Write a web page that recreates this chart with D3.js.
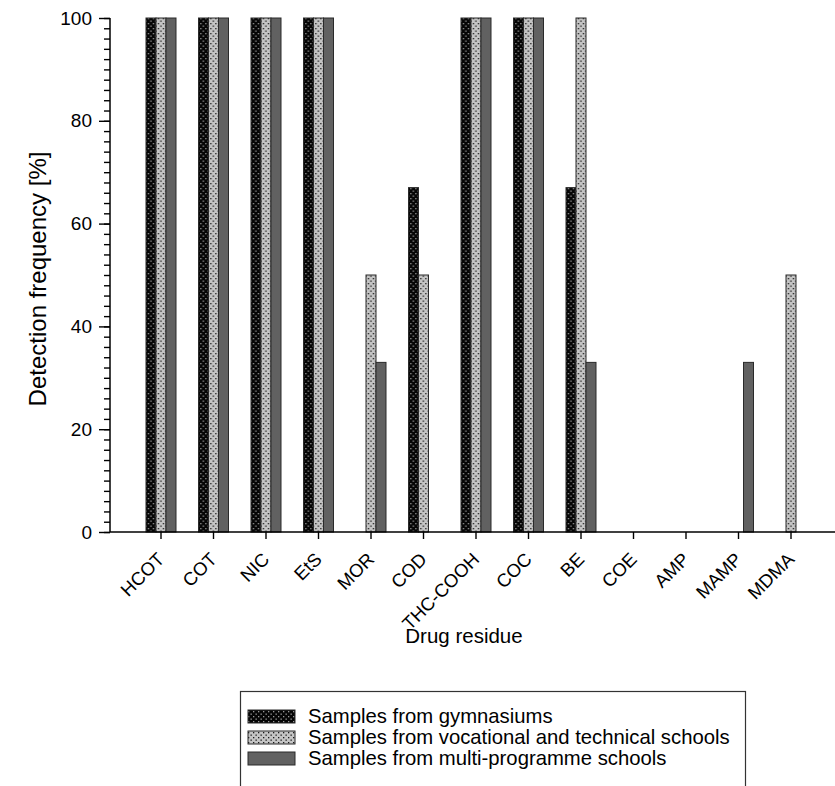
<!DOCTYPE html>
<html>
<head>
<meta charset="utf-8">
<script src="https://cdn.jsdelivr.net/npm/d3@7"></script>
<style>
  html, body { margin: 0; padding: 0; background: #fff; }
  svg { display: block; font-family: "Liberation Sans", Arial, sans-serif; }
</style>
</head>
<body>
<svg id="chart" width="835" height="786"></svg>
<script>
// Drug residues on the x axis
const categories = ["HCOT", "COT", "NIC", "EtS", "MOR", "COD", "THC-COOH", "COC", "BE", "COE", "AMP", "MAMP", "MDMA"];

// Detection frequency (%) per school type
const gymnasiums = [100, 100, 100, 100, 0, 67, 100, 100, 67, 0, 0, 0, 0];
const vocational = [100, 100, 100, 100, 50, 50, 100, 100, 100, 0, 0, 0, 50];
const multiProgramme = [100, 100, 100, 100, 33, 0, 100, 100, 33, 0, 0, 33, 0];

const seriesNames = [
  "Samples from gymnasiums",
  "Samples from vocational and technical schools",
  "Samples from multi-programme schools"
];
const seriesValues = [gymnasiums, vocational, multiProgramme];

const yTicks = [0, 20, 40, 60, 80, 100];

const svg = d3.select("#chart");

// Fill patterns: black with light dots, light grey with dark dots, plain dark grey
const defs = svg.append("defs");
function dotPattern(id, bg, dot) {
  const p = defs.append("pattern")
    .attr("id", id)
    .attr("patternUnits", "userSpaceOnUse")
    .attr("width", 5).attr("height", 5);
  p.append("rect").attr("width", 5).attr("height", 5).attr("fill", bg);
  p.append("rect").attr("x", 0.5).attr("y", 0.5).attr("width", 1.3).attr("height", 1.3).attr("fill", dot);
  p.append("rect").attr("x", 3).attr("y", 3).attr("width", 1.3).attr("height", 1.3).attr("fill", dot);
}
dotPattern("fillGym", "#050505", "#9a9a9a");
dotPattern("fillVoc", "#c4c4c4", "#1a1a1a");
const fills = ["url(#fillGym)", "url(#fillVoc)", "#616161"];

// Scales
const y = d3.scaleLinear().domain([0, 100]).range([532, 18]);
const x = d3.scaleBand().domain(categories).range([134.75, 817.25]).padding(0);
const inner = d3.scaleBand().domain(d3.range(3)).range([x.bandwidth() / 2 - 15, x.bandwidth() / 2 + 15]).padding(0);

// Bars
const rows = categories.map((c, i) => ({ cat: c, vals: seriesValues.map(s => s[i]) }));
const groups = svg.append("g").selectAll("g")
  .data(rows).join("g")
  .attr("transform", d => `translate(${x(d.cat)},0)`);
groups.selectAll("rect")
  .data(d => d.vals.map((v, k) => ({ v, k })).filter(e => e.v > 0))
  .join("rect")
  .attr("x", e => inner(e.k))
  .attr("y", e => y(e.v))
  .attr("width", inner.bandwidth())
  .attr("height", e => y(0) - y(e.v))
  .attr("fill", e => fills[e.k])
  .attr("stroke", "#2a2a2a")
  .attr("stroke-width", 1);

// Y axis with minor ticks every 2%
const yAxisG = svg.append("g").attr("transform", "translate(110,0)");
yAxisG.call(d3.axisLeft(y).tickValues(d3.range(0, 101, 2)).tickSize(6).tickFormat(""))
  .call(g => g.select(".domain").remove());
yAxisG.append("g")
  .call(d3.axisLeft(y).tickValues(yTicks).tickSize(11).tickPadding(7).tickFormat(d3.format("d")))
  .call(g => g.select(".domain").remove())
  .call(g => g.selectAll("text").attr("font-size", 19).attr("fill", "#000").attr("font-family", "Liberation Sans, Arial, sans-serif"));
yAxisG.selectAll("line").attr("stroke", "#000").attr("stroke-width", 1.4);
yAxisG.append("line")
  .attr("x1", 0).attr("x2", 0)
  .attr("y1", y(100)).attr("y2", y(0))
  .attr("stroke", "#000").attr("stroke-width", 1.5);

// X axis
const xAxisG = svg.append("g").attr("transform", `translate(0,${y(0)})`);
xAxisG.call(d3.axisBottom(x).tickSize(7).tickSizeOuter(0).tickFormat(""))
  .call(g => g.select(".domain").remove());
xAxisG.selectAll("line").attr("stroke", "#000").attr("stroke-width", 1.4);
xAxisG.append("line")
  .attr("x1", 110).attr("x2", 835)
  .attr("y1", 0).attr("y2", 0)
  .attr("stroke", "#000").attr("stroke-width", 1.5);
xAxisG.selectAll(".tick")
  .append("text")
  .attr("transform", "translate(-5,19) rotate(-45)")
  .attr("text-anchor", "end")
  .attr("dy", "0.72em")
  .attr("font-size", 18.5)
  .attr("fill", "#000")
  .text(d => d);

// Axis titles
svg.append("text")
  .attr("transform", `translate(46,${(y(0) + y(100)) / 2 + 4}) rotate(-90)`)
  .attr("text-anchor", "middle")
  .attr("font-size", 24)
  .text("Detection frequency [%]");
svg.append("text")
  .attr("x", 464).attr("y", 643)
  .attr("text-anchor", "middle")
  .attr("font-size", 20.5)
  .text("Drug residue");

// Legend
const legend = svg.append("g");
legend.append("rect")
  .attr("x", 240.5).attr("y", 691.5)
  .attr("width", 505).attr("height", 110)
  .attr("fill", "#fff")
  .attr("stroke", "#333").attr("stroke-width", 1.2);
const legendRows = legend.selectAll("g.item")
  .data(seriesNames).join("g")
  .attr("class", "item")
  .attr("transform", (d, i) => `translate(0,${723 + i * 21})`);
legendRows.append("rect")
  .attr("x", 248).attr("y", -13)
  .attr("width", 47).attr("height", 13)
  .attr("fill", (d, i) => fills[i])
  .attr("stroke", "#2a2a2a").attr("stroke-width", 1);
legendRows.append("text")
  .attr("x", 308).attr("y", 0)
  .attr("font-size", 20.3)
  .attr("fill", "#000")
  .text(d => d);
</script>
</body>
</html>
